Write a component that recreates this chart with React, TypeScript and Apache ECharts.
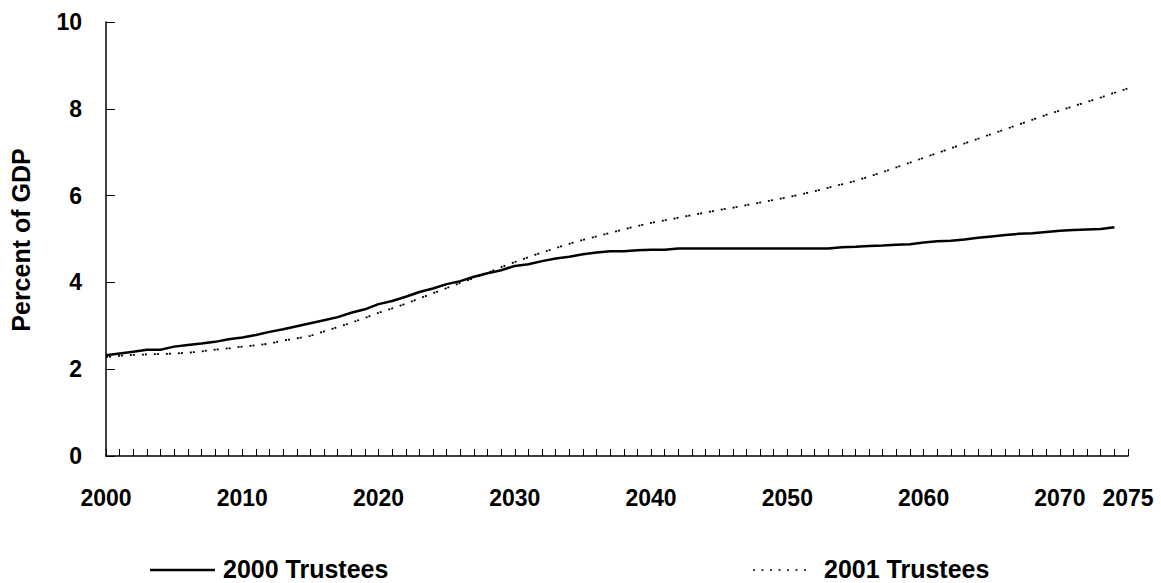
import React, { useEffect, useRef } from "react";
import * as echarts from "echarts";

const FIRST_YEAR = 2000;
const LAST_YEAR = 2075;
const Y_TICKS = [0, 2, 4, 6, 8, 10];
const X_LABEL_YEARS = [2000, 2010, 2020, 2030, 2040, 2050, 2060, 2070, 2075];
const SERIES_NAMES = ["2000 Trustees", "2001 Trustees"];
const Y_TITLE = "Percent of GDP";

// 2000 Trustees: 2000–2074
const trustees2000 = [
  2.32, 2.36, 2.4, 2.45, 2.45, 2.52, 2.56, 2.59, 2.63, 2.69,
  2.73, 2.79, 2.86, 2.92, 2.99, 3.06, 3.13, 3.2, 3.3, 3.38,
  3.5, 3.57, 3.67, 3.78, 3.86, 3.96, 4.03, 4.13, 4.21, 4.28,
  4.38, 4.42, 4.49, 4.55, 4.59, 4.65, 4.69, 4.72, 4.72, 4.74,
  4.75, 4.75, 4.78, 4.78, 4.78, 4.78, 4.78, 4.78, 4.78, 4.78,
  4.78, 4.78, 4.78, 4.78, 4.81, 4.82, 4.84, 4.85, 4.87, 4.88,
  4.92, 4.95, 4.96, 4.99, 5.03, 5.06, 5.09, 5.12, 5.13, 5.16,
  5.19, 5.21, 5.22, 5.23, 5.27,
];

// 2001 Trustees: 2000–2075
const trustees2001 = [
  2.28, 2.31, 2.33, 2.34, 2.35, 2.36, 2.38, 2.41, 2.45, 2.48,
  2.52, 2.55, 2.59, 2.66, 2.71, 2.77, 2.87, 2.97, 3.07, 3.18,
  3.3, 3.4, 3.51, 3.63, 3.75, 3.87, 3.99, 4.1, 4.22, 4.35,
  4.47, 4.58, 4.69, 4.79, 4.89, 4.98, 5.06, 5.14, 5.22, 5.3,
  5.37, 5.43, 5.49, 5.55, 5.61, 5.67, 5.72, 5.78, 5.84, 5.9,
  5.96, 6.03, 6.1, 6.18, 6.26, 6.34, 6.44, 6.54, 6.65, 6.76,
  6.87, 6.98, 7.09, 7.2, 7.31, 7.42, 7.53, 7.64, 7.75, 7.86,
  7.96, 8.06, 8.16, 8.26, 8.37, 8.47,
];

const FONT = "'Liberation Sans', Arial, Helvetica, sans-serif";
const DOT_DASH = [2, 1, 2, 7];

export default function App() {
  const ref = useRef<HTMLDivElement>(null);

  useEffect(() => {
    if (!ref.current) return;
    const chart = echarts.init(ref.current, undefined, { renderer: "svg" });
    const toPairs = (vals: number[]) => vals.map((v, i) => [FIRST_YEAR + i, v]);

    chart.setOption({
      animation: false,
      backgroundColor: "#ffffff",
      textStyle: { fontFamily: FONT },
      grid: { left: 106, right: 33, top: 22, bottom: 127 },
      xAxis: {
        type: "value",
        min: FIRST_YEAR,
        max: LAST_YEAR,
        interval: 1,
        splitLine: { show: false },
        axisLine: { show: true, lineStyle: { color: "#000", width: 1.5 } },
        axisTick: { show: true, inside: true, length: 7, lineStyle: { color: "#000", width: 1 } },
        axisLabel: {
          margin: 30,
          color: "#000",
          fontSize: 23,
          fontWeight: "bold",
          fontFamily: FONT,
          showMinLabel: true,
          showMaxLabel: true,
          formatter: (v: number) => (X_LABEL_YEARS.includes(Math.round(v)) ? String(Math.round(v)) : ""),
        },
      },
      yAxis: {
        type: "value",
        min: Y_TICKS[0],
        max: Y_TICKS[Y_TICKS.length - 1],
        interval: 2,
        splitLine: { show: false },
        axisLine: { show: true, lineStyle: { color: "#000", width: 1.5 } },
        axisTick: { show: true, inside: true, length: 9, lineStyle: { color: "#000", width: 1 } },
        axisLabel: {
          margin: 24,
          color: "#000",
          fontSize: 23,
          fontWeight: "bold",
          fontFamily: FONT,
        },
      },
      graphic: [
        {
          type: "text",
          x: 21,
          y: 240,
          rotation: Math.PI / 2,
          style: {
            text: Y_TITLE,
            fill: "#000",
            font: `bold 25px ${FONT}`,
            textAlign: "center",
            textVerticalAlign: "middle",
          },
        },
        {
          type: "line",
          shape: { x1: 150, y1: 570, x2: 215, y2: 570 },
          style: { stroke: "#000", lineWidth: 2.5 },
        },
        {
          type: "text",
          x: 223,
          y: 569,
          style: {
            text: SERIES_NAMES[0],
            fill: "#000",
            font: `bold 25px ${FONT}`,
            textAlign: "left",
            textVerticalAlign: "middle",
          },
        },
        {
          type: "line",
          shape: { x1: 753, y1: 570, x2: 811, y2: 570 },
          style: { stroke: "#000", lineWidth: 1.5, lineDash: [2, 6.5] },
        },
        {
          type: "text",
          x: 824,
          y: 569,
          style: {
            text: SERIES_NAMES[1],
            fill: "#000",
            font: `bold 25px ${FONT}`,
            textAlign: "left",
            textVerticalAlign: "middle",
          },
        },
      ],
      series: [
        {
          name: SERIES_NAMES[0],
          type: "line",
          data: toPairs(trustees2000),
          symbol: "none",
          lineStyle: { color: "#000", width: 2.5, type: "solid" },
          itemStyle: { color: "#000" },
        },
        {
          name: SERIES_NAMES[1],
          type: "line",
          data: toPairs(trustees2001),
          symbol: "none",
          lineStyle: { color: "#000", width: 1.8, type: DOT_DASH },
          itemStyle: { color: "#000" },
        },
      ],
    });

    return () => chart.dispose();
  }, []);

  return (
    <div
      ref={ref}
      style={{ position: "fixed", left: 0, top: 0, width: 1161, height: 583 }}
    />
  );
}
